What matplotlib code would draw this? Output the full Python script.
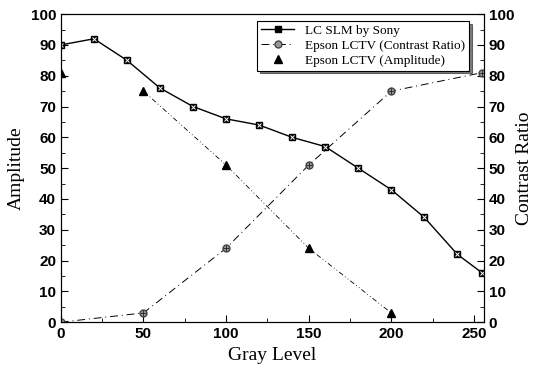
import matplotlib.pyplot as plt
from matplotlib.ticker import MultipleLocator

# LC SLM by Sony (amplitude, left axis)
sony_x = [0, 20, 40, 60, 80, 100, 120, 140, 160, 180, 200, 220, 240, 255]
sony_y = [90, 92, 85, 76, 70, 66, 64, 60, 57, 50, 43, 34, 22, 16]

# Epson LCTV contrast ratio (right axis)
cr_x = [0, 50, 100, 150, 200, 255]
cr_y = [0, 3, 24, 51, 75, 81]

# Epson LCTV amplitude (left axis)
amp_x = [0, 50, 100, 150, 200]
amp_y = [81, 75, 51, 24, 3]

plt.rcParams['font.family'] = ['Liberation Sans', 'DejaVu Sans']

fig = plt.figure(figsize=(5.34, 3.72), dpi=100)
ax = fig.add_axes([0.114, 0.134, 0.792, 0.828])
ax2 = ax.twinx()

serif = {'family': 'Liberation Serif'}

l1, = ax.plot(sony_x, sony_y, '-', color='black', lw=1.0, marker='s',
              markersize=5, markerfacecolor='black', markeredgecolor='black')
ax.plot(sony_x, sony_y, 'x', color='white', markersize=3, mew=0.7)

# amplitude: dash-dot-dot line only drawn from the 50 point on
ax.plot(amp_x[1:], amp_y[1:], linestyle=(3, (6, 3, 1, 3, 1, 3)), color='black', lw=0.6)
ax.plot(amp_x, amp_y, linestyle='none', marker='^', markersize=6, color='black')

l2, = ax2.plot(cr_x, cr_y, linestyle=(0, (8, 4, 1, 4)), color='black', lw=0.7,
               marker='o', markersize=5, markerfacecolor='#999999',
               markeredgecolor='#444444')
ax2.plot(cr_x, cr_y, '+', color='#222222', markersize=4, mew=0.6)

for a in (ax, ax2):
    a.set_xlim(0, 256)
    a.set_ylim(0, 100)
    a.yaxis.set_major_locator(MultipleLocator(10))
    a.yaxis.set_minor_locator(MultipleLocator(5))
    a.tick_params(which='both', direction='in', labelsize=11)
    a.tick_params(which='major', length=5)
    a.tick_params(which='minor', length=3)

ax.xaxis.set_major_locator(MultipleLocator(50))
ax.xaxis.set_minor_locator(MultipleLocator(25))
for lab in ax.get_xticklabels() + ax.get_yticklabels() + ax2.get_yticklabels():
    lab.set_fontweight('bold')

ax.set_xlabel('Gray Level', fontsize=14, fontdict=serif)
ax.set_ylabel('Amplitude', fontsize=14, fontdict=serif)
ax2.set_ylabel('Contrast Ratio', fontsize=14, fontdict=serif, labelpad=1)

h3 = plt.Line2D([], [], linestyle='none', marker='^', color='black', markersize=6)
leg = ax2.legend([l1, l2, h3],
                 ['LC SLM by Sony', 'Epson LCTV (Contrast Ratio)', 'Epson LCTV (Amplitude)'],
                 loc='upper right', bbox_to_anchor=(0.98, 1.0),
                 prop={'family': 'Liberation Serif', 'size': 9.5},
                 fancybox=False, shadow={'color': 'black'}, edgecolor='black', framealpha=1,
                 handlelength=2.5, borderpad=0.3, labelspacing=0.2)
leg.get_frame().set_linewidth(0.8)

fig.savefig('out.png', dpi=100)
